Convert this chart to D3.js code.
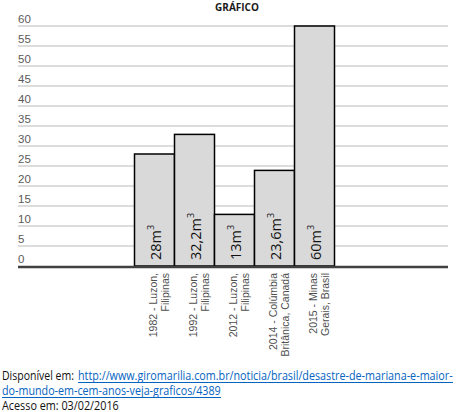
<!DOCTYPE html>
<html><head><meta charset="utf-8">
<script src="https://cdn.jsdelivr.net/npm/d3@7"></script>
<style>body{margin:0;background:#fff}svg{display:block}</style>
</head><body>
<svg id="c" width="457" height="412"></svg>
<script>
const categories = [
  ["1982 - Luzon,", "Filipinas"],
  ["1992 - Luzon,", "Filipinas"],
  ["2012 - Luzon,", "Filipinas"],
  ["2014 - Colúmbia", "Britânica, Canadá"],
  ["2015 - Minas", "Gerais, Brasil"]
];
const barHeights = [28, 32.9, 12.9, 23.9, 60];
const valueNumbers = ["28", "32,2", "13", "23,6", "60"];
const valueUnit = "m";
const yTicks = [0, 5, 10, 15, 20, 25, 30, 35, 40, 45, 50, 55, 60];
const title = "GRÁFICO";
const footer1Prefix = "Disponível em:";
const footer1Link = "http://www.giromarilia.com.br/noticia/brasil/desastre-de-mariana-e-maior-";
const footer2Link = "do-mundo-em-cem-anos-veja-graficos/4389";
const footer3 = "Acesso em: 03/02/2016";

const svg = d3.select("#c");
const y = d3.scaleLinear().domain([0, 60]).range([266, 26]);
const x = d3.scaleBand().domain(d3.range(categories.length)).range([134.5, 334.5]).paddingInner(0).paddingOuter(0);
const left = 18, right = 448;

// title
svg.append("text").attr("x", 237).attr("y", 11).attr("text-anchor", "middle")
  .attr("font-family", "Open Sans").attr("font-weight", "bold").attr("font-size", 10)
  .attr("fill", "#1a1a1a").text(title);

// gridlines and tick labels
const g = svg.append("g");
g.selectAll("line.grid").data(yTicks.filter(d => d > 0)).join("line")
  .attr("x1", left).attr("x2", right).attr("y1", d => y(d)).attr("y2", d => y(d))
  .attr("stroke", "#d0d0d0").attr("stroke-width", 1.5);
g.selectAll("text.tick").data(yTicks).join("text")
  .attr("x", left).attr("y", d => y(d) - 3.5)
  .attr("font-family", "Liberation Sans").attr("font-size", 11.5)
  .attr("fill", "#5a5a5a").text(d => d);

// bars
svg.selectAll("rect.bar").data(barHeights).join("rect")
  .attr("x", (d, i) => x(i)).attr("width", x.bandwidth())
  .attr("y", d => y(d)).attr("height", d => y(0) - y(d))
  .attr("fill", "#d9d9d9").attr("stroke", "#000").attr("stroke-width", 1.5);

// baseline
svg.append("line").attr("x1", left).attr("x2", right).attr("y1", 267).attr("y2", 267)
  .attr("stroke", "#404040").attr("stroke-width", 2.5);

// value labels
const vl = svg.selectAll("text.val").data(valueNumbers).join("text")
  .attr("transform", (d, i) => `translate(${x(i) + x.bandwidth() / 2 + 1},260) rotate(-90)`)
  .attr("dy", "0.36em")
  .attr("font-family", "Open Sans").attr("font-size", 14.5).attr("fill", "#111");
vl.append("tspan").text(d => d + valueUnit);
vl.append("tspan").attr("font-size", 9).attr("dy", "-0.75em").text("3");

// category labels
const cl = svg.selectAll("text.cat").data(categories).join("text")
  .attr("transform", (d, i) => `translate(${x(i) + x.bandwidth() / 2},273) rotate(-90)`)
  .attr("text-anchor", "end")
  .attr("font-family", "Liberation Sans").attr("font-size", 10.5).attr("fill", "#505050");
cl.append("tspan").attr("x", 0).attr("y", -1).attr("dy", "0.35em").text(d => d[0]);
cl.append("tspan").attr("x", 0).attr("y", 11).attr("dy", "0.35em").text(d => d[1]);

// footer (horizontally scaled to fit the reference widths)
const ff = "Open Sans", fs = 12;
function fitText(str, x0, y0, width, color) {
  const t = svg.append("text").attr("font-family", ff).attr("font-size", fs).attr("fill", color).text(str);
  const w = t.node().getComputedTextLength();
  t.attr("transform", `translate(${x0},${y0}) scale(${width / w},1)`);
  return t;
}
fitText(footer1Prefix, 2, 380, 72, "#111");
fitText(footer1Link, 78, 380, 375, "#0563c1");
svg.append("line").attr("x1", 78).attr("x2", 453).attr("y1", 382.5).attr("y2", 382.5).attr("stroke", "#0563c1").attr("stroke-width", 1);
fitText(footer2Link, 2, 395, 219, "#0563c1");
svg.append("line").attr("x1", 2).attr("x2", 221).attr("y1", 397.5).attr("y2", 397.5).attr("stroke", "#0563c1").attr("stroke-width", 1);
fitText(footer3, 2, 410, 117, "#111");
</script>
</body></html>
